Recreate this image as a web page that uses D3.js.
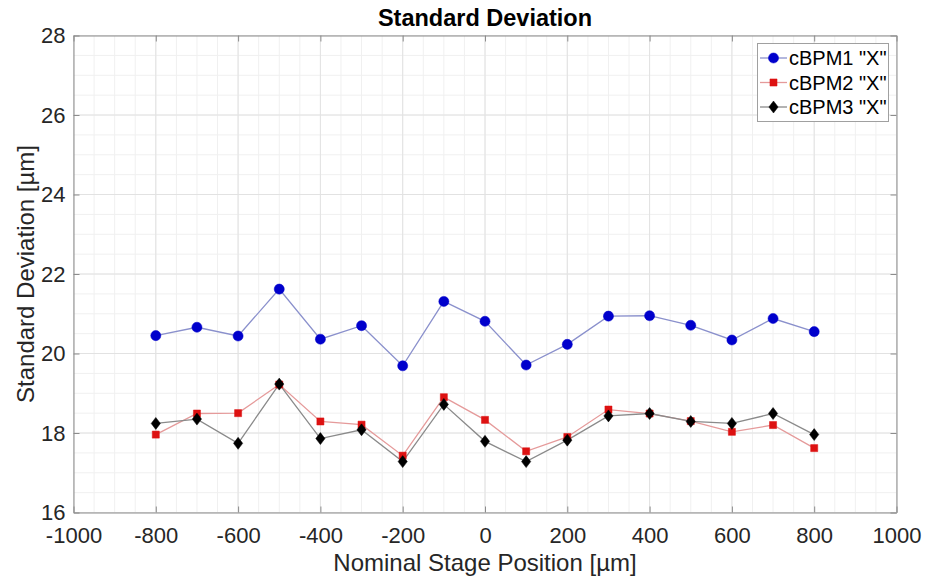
<!DOCTYPE html>
<html>
<head>
<meta charset="utf-8">
<script src="https://cdn.jsdelivr.net/npm/d3@7"></script>
<style>
html,body{margin:0;padding:0;background:#fff;}
svg{display:block;font-family:"Liberation Sans",Arial,Helvetica,sans-serif;}
</style>
</head>
<body>
<svg id="chart" width="936" height="578"></svg>
<script>
const positions = [-800,-700,-600,-500,-400,-300,-200,-100,0,100,200,300,400,500,600,700,800];
const cbpm1 = [20.45,20.66,20.44,21.62,20.36,20.70,19.69,21.31,20.81,19.71,20.23,20.94,20.95,20.71,20.34,20.88,20.55];
const cbpm2 = [17.96,18.49,18.50,19.22,18.29,18.21,17.43,18.90,18.33,17.54,17.90,18.59,18.49,18.30,18.03,18.20,17.62];
const cbpm3 = [18.24,18.35,17.74,19.23,17.86,18.08,17.28,18.72,17.79,17.28,17.82,18.43,18.49,18.29,18.24,18.49,17.96];
const seriesNames = ['cBPM1 "X"','cBPM2 "X"','cBPM3 "X"'];
const xTicks = [-1000,-800,-600,-400,-200,0,200,400,600,800,1000];
const yTicks = [16,18,20,22,24,26,28];
const titleText = "Standard Deviation";
const xLabel = "Nominal Stage Position [µm]";
const yLabel = "Standard Deviation [µm]";

const svg = d3.select("#chart");
const L = 73.5, R = 896.5, T = 35.5, B = 512.5;
const x = d3.scaleLinear().domain([-1000,1000]).range([L,R]);
const y = d3.scaleLinear().domain([16,28]).range([B,T]);

// minor grid
const xMinor = d3.range(-1000,1001,50);
const yMinor = d3.range(16,28.01,0.5);
const g = svg.append("g");
g.selectAll(".xm").data(xMinor).enter().append("line")
  .attr("x1",d=>x(d)).attr("x2",d=>x(d)).attr("y1",T).attr("y2",B)
  .attr("stroke","#f0f0f0").attr("stroke-width",1);
g.selectAll(".ym").data(yMinor).enter().append("line")
  .attr("y1",d=>y(d)).attr("y2",d=>y(d)).attr("x1",L).attr("x2",R)
  .attr("stroke","#f0f0f0").attr("stroke-width",1);
// major grid
g.selectAll(".xg").data(xTicks).enter().append("line")
  .attr("x1",d=>x(d)).attr("x2",d=>x(d)).attr("y1",T).attr("y2",B)
  .attr("stroke","#e2e2e2").attr("stroke-width",1);
g.selectAll(".yg").data(yTicks).enter().append("line")
  .attr("y1",d=>y(d)).attr("y2",d=>y(d)).attr("x1",L).attr("x2",R)
  .attr("stroke","#e2e2e2").attr("stroke-width",1);

// axes
const axisColor = "#8c8c8c";
const fmt = d => String(d);
const xAxisB = d3.axisBottom(x).tickValues(xTicks).tickSizeInner(-6).tickSizeOuter(0).tickPadding(14.5).tickFormat(fmt);
const xAxisT = d3.axisTop(x).tickValues(xTicks).tickSizeInner(-6).tickSizeOuter(0).tickFormat("");
const yAxisL = d3.axisLeft(y).tickValues(yTicks).tickSizeInner(-6).tickSizeOuter(0).tickPadding(8).tickFormat(fmt);
const yAxisR = d3.axisRight(y).tickValues(yTicks).tickSizeInner(-6).tickSizeOuter(0).tickFormat("");
function style(sel){
  sel.select(".domain").attr("stroke",axisColor);
  sel.selectAll(".tick line").attr("stroke",axisColor);
  sel.selectAll(".tick text").attr("fill","#262626").style("font-size","22px")
     .style("font-family","'Liberation Sans',Arial,sans-serif");
}
svg.append("g").attr("transform",`translate(0,${B})`).call(xAxisB).call(style);
svg.append("g").attr("transform",`translate(0,${T})`).call(xAxisT).call(style);
svg.append("g").attr("transform",`translate(${L},0)`).call(yAxisL).call(style);
svg.append("g").attr("transform",`translate(${R},0)`).call(yAxisR).call(style);

// series
const series = [
  {name:seriesNames[0], vals:cbpm1, color:"#0000cc", line:"#8a90cc", shape:"circle"},
  {name:seriesNames[1], vals:cbpm2, color:"#dd1111", line:"#e59a9a", shape:"square"},
  {name:seriesNames[2], vals:cbpm3, color:"#000000", line:"#8a8a8a", shape:"diamond"}
];
const diamondPath = "M0,-6L4.6,0L0,6L-4.6,0Z";
const symbolFor = {
  circle: d3.symbol().type(d3.symbolCircle).size(80)(),
  square: d3.symbol().type(d3.symbolSquare).size(50)(),
  diamond: diamondPath
};
const line = d3.line().x(d=>x(d[0])).y(d=>y(d[1]));
series.forEach(s=>{
  const pts = positions.map((p,i)=>[p,s.vals[i]]);
  svg.append("path").datum(pts).attr("d",line).attr("fill","none")
    .attr("stroke",s.line).attr("stroke-width",1.3);
});
series.forEach(s=>{
  const pts = positions.map((p,i)=>[p,s.vals[i]]);
  svg.selectAll(null).data(pts).enter().append("path")
    .attr("d",symbolFor[s.shape])
    .attr("transform",d=>`translate(${x(d[0])},${y(d[1])})`)
    .attr("fill",s.color).attr("stroke",s.color).attr("stroke-width",0.5);
});

// title & labels
svg.append("text").attr("x",(L+R)/2).attr("y",26).attr("text-anchor","middle")
  .style("font-size","23.5px").style("font-weight","bold").attr("fill","#000").text(titleText);
svg.append("text").attr("x",(L+R)/2).attr("y",571).attr("text-anchor","middle")
  .style("font-size","24px").attr("fill","#262626").text(xLabel);
svg.append("text").attr("transform",`translate(34,${(T+B)/2}) rotate(-90)`).attr("text-anchor","middle")
  .style("font-size","24px").attr("fill","#262626").text(yLabel);

// legend
const lg = svg.append("g");
lg.append("rect").attr("x",757.5).attr("y",43.5).attr("width",131).attr("height",78)
  .attr("fill","#fff").attr("stroke","#a0a0a0").attr("stroke-width",1);
series.forEach((s,i)=>{
  const cy = 58 + i*24.5;
  lg.append("line").attr("x1",760).attr("x2",787).attr("y1",cy).attr("y2",cy)
    .attr("stroke",s.line).attr("stroke-width",1.3);
  lg.append("path").attr("d",symbolFor[s.shape]).attr("transform",`translate(773.5,${cy})`)
    .attr("fill",s.color).attr("stroke",s.color).attr("stroke-width",0.5);
  lg.append("text").attr("x",789).attr("y",cy+7).style("font-size","20px").attr("fill","#000").text(s.name);
});
</script>
</body>
</html>
